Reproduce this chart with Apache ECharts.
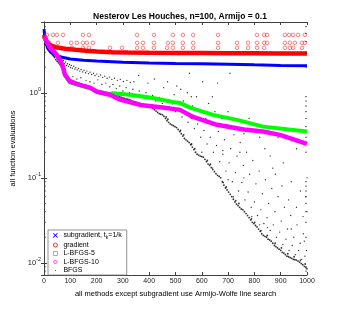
<!DOCTYPE html>
<html><head><meta charset="utf-8">
<script src="https://cdn.jsdelivr.net/npm/echarts@6/dist/echarts.min.js"></script>
<style>html,body{margin:0;padding:0;background:#fff}#c{width:339px;height:311px}</style>
</head><body><div id="c"></div>
<script>
const title = 'Nesterov Les Houches, n=100, Armijo = 0.1';
const xLabel = 'all methods except subgradient use Armijo-Wolfe line search';
const yLabel = 'all function evaluations';
const names = ['subgradient, t_k=1/k', 'gradient', 'L-BFGS-5', 'L-BFGS-10', 'BFGS'];
const minorTickValues = [0.008,0.009,0.02,0.03,0.04,0.05,0.06,0.07,0.08,0.09,0.2,0.3,0.4,0.5,0.6,0.7,0.8,0.9,2,3,4,5,6];

// subgradient (blue)
const subgradient = [[0,5.6],[3,4.5],[8,3.8],[15,3.3],[25,3.0],[40,2.8],[60,2.65],[100,2.5],[150,2.42],[200,2.37],[300,2.28],[400,2.24],[500,2.21],[600,2.19],[700,2.17],[800,2.13],[900,2.1],[1000,2.08]];
// gradient (red) main trace
const gradient = [[0,4.8],[5,4.3],[10,4.0],[20,3.7],[30,3.55],[50,3.4],[80,3.3],[120,3.2],[160,3.12],[200,3.05],[260,3.0],[320,2.97],[400,2.95],[500,2.94],[600,2.93],[700,2.92],[800,2.91],[900,2.9],[1000,2.9]];
// gradient (red) outlying evaluations
const gradientExtra = [[11,4.8],[34,4.8],[49,4.8],[72,4.8],[148,4.8],[171,4.8],[354,4.8],[418,4.8],[490,4.8],[528,4.8],[567,4.8],[662,4.8],[810,4.8],[837,4.8],[848,4.8],[916,4.8],[932,4.8],[947,4.8],[966,4.8],[992,4.8],
 [19,3.87],[53,3.87],[103,3.87],[125,3.87],[148,3.87],[163,3.87],[186,3.87],[354,3.87],[376,3.87],[418,3.87],[471,3.87],[490,3.87],[528,3.87],[567,3.87],[662,3.87],[734,3.87],[776,3.87],[810,3.87],[837,3.87],[848,3.87],[916,3.87],[935,3.87],[954,3.87],[981,3.87],[992,3.87],
 [53,3.38],[106,3.38],[148,3.38],[171,3.38],[251,3.38],[297,3.38],[354,3.38],[376,3.38],[418,3.38],[468,3.38],[490,3.38],[528,3.38],[567,3.38],[662,3.38],[734,3.38],[776,3.38],[810,3.38],[837,3.38],[916,3.38],[935,3.38],[947,3.38],[981,3.38]];
// L-BFGS-5 (green)
const lbfgs5 = [[0,4.5],[23,3.38],[42,2.95],[61,2.44],[72,2.0],[80,1.6],[99,1.33],[137,1.22],[175,1.13],[202,1.02],[251,0.97],[262,0.99],[327,0.95],[414,0.87],[490,0.78],[517,0.76],[555,0.67],[643,0.55],[734,0.48],[833,0.4],[1000,0.35]];
// L-BFGS-10 (magenta)
const lbfgs10 = [[0,4.6],[23,3.38],[42,2.95],[61,2.44],[72,2.02],[80,1.63],[99,1.35],[137,1.24],[175,1.15],[202,1.03],[251,0.95],[289,0.83],[365,0.72],[452,0.67],[517,0.63],[567,0.52],[658,0.42],[760,0.37],[833,0.35],[897,0.32],[1000,0.25]];
// BFGS (black) dense lower trace
const bfgsMain = [[0,4.3],[3,4.0],[6,3.8],[9,3.6],[12,3.4],[16,3.3],[20,3.2],[24,3.1],[28,2.95],[32,2.8],[36,2.7],[40,2.6],[45,2.45],[50,2.35],[55,2.25],[60,2.15],[66,2.0],[72,1.85],[78,1.7],[84,1.6],[90,1.52],[96,1.47],[102,1.42],[108,1.39],[114,1.36],[120,1.33],[126,1.31],[132,1.29],[138,1.27],[144,1.25],[150,1.23],[156,1.21],[162,1.19],[168,1.17],[174,1.15],[180,1.13],[186,1.12],[192,1.1],[198,1.08],[204,1.06],[210,1.05],[216,1.04],[222,1.03],[228,1.02],[234,1.0],[240,0.99],[246,0.98],[252,0.97],[258,0.96],[264,0.95],[270,0.94],[276,0.93],[282,0.92],[288,0.9],[294,0.88],[300,0.87],[306,0.86],[312,0.85],[318,0.84],[324,0.83],[330,0.82],[336,0.8],[342,0.79],[348,0.78],[354,0.77],[360,0.76],[366,0.75],[372,0.74],[378,0.73],[384,0.72],[390,0.71],[396,0.7],[402,0.69],[408,0.67],[414,0.65],[420,0.63],[426,0.61],[432,0.59],[438,0.57],[444,0.56],[450,0.55],[456,0.53],[462,0.5],[468,0.47],[474,0.45],[480,0.43],[486,0.42],[492,0.41],[498,0.4],[504,0.39],[510,0.37],[516,0.35],[522,0.33],[528,0.31],[534,0.29],[540,0.28],[546,0.27],[552,0.26],[558,0.245],[564,0.23],[570,0.215],[576,0.2],[582,0.19],[588,0.185],[594,0.18],[600,0.178],[606,0.175],[612,0.165],[618,0.155],[624,0.145],[630,0.14],[636,0.132],[642,0.125],[648,0.118],[654,0.112],[660,0.107],[666,0.104],[672,0.1],[678,0.09],[684,0.082],[690,0.076],[696,0.072],[702,0.068],[708,0.064],[714,0.06],[720,0.056],[726,0.052],[732,0.049],[738,0.047],[744,0.045],[750,0.043],[756,0.042],[762,0.04],[768,0.038],[774,0.036],[780,0.034],[786,0.032],[792,0.03],[798,0.029],[804,0.0275],[810,0.0265],[816,0.025],[822,0.0235],[828,0.022],[834,0.021],[840,0.0205],[846,0.02],[852,0.019],[858,0.0186],[864,0.018],[870,0.017],[876,0.016],[882,0.0155],[888,0.015],[894,0.0145],[900,0.014],[906,0.0133],[912,0.013],[918,0.0125],[924,0.012],[930,0.0118],[936,0.0115],[942,0.0113],[948,0.011],[954,0.0109],[960,0.0108],[966,0.0105],[972,0.0102],[978,0.0098],[984,0.0095],[990,0.0091],[996,0.0088],[1000,0.0085],
 [465,0.52],[471,0.49],[519,0.36],[531,0.32],[561,0.25],[573,0.22],[621,0.16],[633,0.145],[681,0.088],[693,0.078],[729,0.054],[741,0.05],[789,0.033],[801,0.03],[825,0.024],[849,0.021],[879,0.017],[903,0.015],[927,0.0128],[951,0.0118],[975,0.0108],[993,0.0097]];
// BFGS (black) scattered evaluations
const bfgsScatter = [[5,4.1],[8,3.7],[12,4.4],[14,3.5],[18,3.2],[21,3.9],[26,3.0],[29,3.4],[33,2.9],[37,3.1],[41,2.7],[44,3.5],[48,2.6],[52,2.9],[57,2.5],[61,2.7],[64,2.35],[68,2.5],[71,2.25],[74,2.4],[78,2.2],[82,2.3],[86,2.1],[89,2.2],[93,2.05],[97,2.15],[101,1.98],[104,2.1],[108,1.95],[113,2.05],[117,1.9],[121,1.97],[126,1.85],[131,1.93],[136,1.8],[141,1.88],[147,1.76],[152,1.84],[158,1.72],[163,1.8],[169,1.68],[175,1.75],[181,1.64],[188,1.7],[194,1.6],[201,1.66],[208,1.56],[215,1.62],[223,1.52],[231,1.57],[240,1.48],[249,1.53],[258,1.44],[268,1.48],[279,1.4],[290,1.44],[302,1.36],[315,1.4],[328,1.32],[342,1.35],
 [90,1.6],[110,1.55],[125,1.45],[140,1.5],[160,1.4],[175,1.35],[190,1.3],[205,1.42],[220,1.25],[235,1.3],[250,1.18],[262,1.25],[275,1.12],[288,1.2],[300,1.05],[312,1.15],[325,1.0],[338,1.1],[350,0.95],[362,1.05],[375,0.9],[388,1.0],[400,0.85],[413,0.93],[425,0.8],[438,0.88],[450,0.75],[463,0.82],[476,0.68],[488,0.74],[500,0.6],[512,0.66],[525,0.52],[537,0.58],[548,0.45],[560,0.5],[572,0.38],[584,0.43],[596,0.3],[608,0.36],[620,0.25],[632,0.3],[644,0.2],[656,0.24],[668,0.155],[680,0.19],[692,0.12],[704,0.15],[716,0.09],[728,0.115],[740,0.07],[752,0.088],[764,0.055],[776,0.068],[788,0.045],[800,0.052],[812,0.036],[824,0.042],[836,0.029],[848,0.034],[860,0.024],[872,0.028],[884,0.02],[896,0.023],[908,0.0165],[920,0.019],[932,0.014],[944,0.016],[956,0.0125],[968,0.014],[980,0.011],[992,0.012],
 [360,1.6],[395,1.3],[420,1.45],[455,1.15],[470,1.35],[495,0.95],[505,1.2],[530,0.8],[545,1.0],[553,1.7],[565,0.7],[580,0.9],[590,0.6],[603,1.35],[615,0.5],[626,0.75],[638,0.42],[650,0.6],[660,1.3],[663,0.35],[675,0.5],[686,0.28],[697,0.42],[707,1.7],[710,0.22],[722,0.32],[734,0.18],[746,0.26],[758,0.14],[770,0.2],[780,0.5],[782,0.11],[794,0.16],[806,0.085],[818,0.12],[830,0.065],[842,0.095],[854,0.05],[866,0.075],[878,0.04],[890,0.06],[902,0.031],[914,0.045],[926,0.025],[938,0.036],[950,0.02],[962,0.028],[974,0.017],[986,0.022],[998,0.014],
 [600,0.2],[640,0.13],[700,0.095],[720,0.06],[760,0.1],[790,0.035],[820,0.028],[850,0.026],[880,0.11],[905,0.08],[930,0.055],[960,0.045],[985,0.035],[1000,0.1],[995,0.06],[975,0.07],[940,0.09],[910,0.15],[860,0.18],[745,0.2],[680,0.21],[720,0.4],[820,0.3],[870,0.13],[940,0.025],[990,0.018],[560,0.9],[520,1.1],[640,0.9],[700,0.6],[760,0.33],[840,0.22],[890,0.3],[960,0.22],[1000,0.04]];

const FONT = 'Liberation Sans, Arial, sans-serif';
const AX = '#404040';
const chart = echarts.init(document.getElementById('c'), null, {renderer: 'canvas'});
const supFmt = v => {
  const e = Math.round(Math.log10(v));
  if (Math.abs(Math.log10(v) - e) > 1e-6) return '';
  return '{b|10}{s|' + e + '}';
};
const xAxisBase = {type: 'value', min: 0, max: 1000, interval: 100,
  axisLine: {show: true, lineStyle: {color: AX, width: 1}},
  axisTick: {show: true, inside: true, length: 3, lineStyle: {color: AX}},
  splitLine: {show: false}};
const yAxisBase = {type: 'log', logBase: 10, min: 0.0072, max: 6.8,
  axisLine: {show: true, lineStyle: {color: AX, width: 1}},
  axisTick: {show: true, inside: true, length: 3, lineStyle: {color: AX}},
  splitLine: {show: false}};

chart.setOption({
  animation: false,
  backgroundColor: '#fff',
  textStyle: {fontFamily: FONT},
  title: {text: title, left: 175, textAlign: 'center', top: 7,
    textStyle: {fontFamily: FONT, fontSize: 8.5, fontWeight: 'bold', color: '#000'}},
  grid: {left: 44, right: 32, top: 22, bottom: 36},
  legend: {
    orient: 'vertical', left: 48, top: 230, itemGap: 1.5, itemWidth: 4, itemHeight: 4,
    padding: [2, 5, 1, 5], borderColor: '#777', borderWidth: 0.8, backgroundColor: '#fff',
    textStyle: {fontFamily: FONT, fontSize: 7, color: '#000', padding: [0, 0, 0, 1],
      rich: {a: {fontSize: 7, fontFamily: FONT}, k: {fontSize: 5, fontFamily: FONT, padding: [4, 0, 0, 0]}}},
    formatter: n => n === names[0] ? '{a|subgradient, t}{k|k}{a|=1/k}' : n,
    data: [
      {name: names[0], icon: 'path://M0,0L10,10L10,9L1,0ZM10,0L0,10L0,9L9,0Z', itemStyle: {color: '#0000ff', borderColor: '#0000ff', borderWidth: 0.6}},
      {name: names[1], icon: 'circle', itemStyle: {color: '#fff', borderColor: '#ff0000', borderWidth: 0.8}},
      {name: names[2], icon: 'rect', itemStyle: {color: '#fff', borderColor: '#00ff00', borderWidth: 0.8}},
      {name: names[3], icon: 'diamond', itemStyle: {color: '#fff', borderColor: '#ff00ff', borderWidth: 0.8}},
      {name: names[4], icon: 'path://M0,0M10,10M4,4L6,4L6,6L4,6Z', itemStyle: {color: '#000'}}
    ]
  },
  xAxis: [
    Object.assign({}, xAxisBase, {position: 'bottom', name: xLabel, nameLocation: 'middle', nameGap: 10,
      nameTextStyle: {fontFamily: FONT, fontSize: 7.5, color: '#000'},
      axisLabel: {fontFamily: FONT, fontSize: 7, color: '#222', margin: 3, formatter: v => String(v)}}),
    Object.assign({}, xAxisBase, {position: 'top', axisLabel: {show: false}})
  ],
  yAxis: [
    Object.assign({}, yAxisBase, {position: 'left', name: yLabel, nameLocation: 'middle', nameGap: 12, nameRotate: 90,
      nameTextStyle: {fontFamily: FONT, fontSize: 7.5, color: '#000'},
      axisLabel: {formatter: supFmt, margin: 3, color: '#222',
        rich: {b: {fontFamily: FONT, fontSize: 7.5, color: '#222'}, s: {fontFamily: FONT, fontSize: 5.5, color: '#222', padding: [0, 0, 6, 0]}}}}),
    Object.assign({}, yAxisBase, {position: 'right', axisLabel: {show: false}})
  ],
  series: [
    {name: names[4], type: 'scatter', data: bfgsScatter, symbol: 'circle', symbolSize: 1.4, itemStyle: {color: '#000'}, z: 2},
    {name: names[4], type: 'scatter', data: bfgsMain, symbol: 'circle', symbolSize: 1.8, itemStyle: {color: '#000'}, z: 2},
    {name: names[0], type: 'line', data: subgradient, showSymbol: false, lineStyle: {color: '#0000ff', width: 3}, itemStyle: {color: '#0000ff'}, z: 3},
    {name: names[1], type: 'line', data: gradient, showSymbol: false, lineStyle: {color: '#ff0000', width: 4.5}, itemStyle: {color: '#ff0000'}, z: 4},
    {name: names[1], type: 'scatter', data: gradientExtra, symbol: 'circle', symbolSize: 3.6, itemStyle: {color: 'rgba(255,255,255,0)', borderColor: '#ff2020', borderWidth: 0.7}, z: 4},
    {name: names[2], type: 'line', data: lbfgs5, showSymbol: false, lineStyle: {color: '#00ff00', width: 4}, itemStyle: {color: '#00ff00'}, z: 5},
    {name: names[3], type: 'line', data: lbfgs10, showSymbol: false, lineStyle: {color: '#ff00ff', width: 4.5}, itemStyle: {color: '#ff00ff'}, z: 6},
    {type: 'custom', silent: true, z: 10, data: minorTickValues.map(v => [0, v]),
      renderItem: (params, api) => {
        const v = api.value(1);
        const a = api.coord([0, v]);
        const b = api.coord([1000, v]);
        return {type: 'group', children: [
          {type: 'line', shape: {x1: a[0], y1: a[1], x2: a[0] + 2, y2: a[1]}, style: {stroke: AX, lineWidth: 0.8}},
          {type: 'line', shape: {x1: b[0] - 2, y1: b[1], x2: b[0], y2: b[1]}, style: {stroke: AX, lineWidth: 0.8}}
        ]};
      }}
  ]
});
</script>
</body></html>
